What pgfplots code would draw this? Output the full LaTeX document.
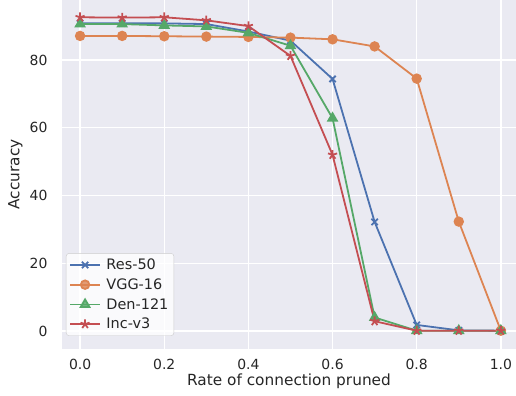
\documentclass[border=0pt]{standalone}
\usepackage{pgfplots}
\pgfplotsset{compat=1.18}
\usepackage{fontspec}
\setmainfont{DejaVu Sans}
\definecolor{bgc}{HTML}{EAEAF2}
\definecolor{sblue}{HTML}{4C72B0}
\definecolor{sorange}{HTML}{DD8452}
\definecolor{sgreen}{HTML}{55A868}
\definecolor{sred}{HTML}{C44E52}
\definecolor{txt}{HTML}{262626}
\begin{document}
\begin{tikzpicture}
\begin{axis}[
  scale only axis,
  width=454bp, height=349bp,
  xmin=-0.043, xmax=1.036,
  ymin=-5.3, ymax=97.7,
  axis background/.style={fill=bgc},
  axis line style={draw=none},
  grid=major,
  major grid style={white, line width=1.4pt},
  xtick={0,0.2,0.4,0.6,0.8,1.0},
  ytick={0,20,40,60,80},
  xticklabel style={/pgf/number format/fixed, /pgf/number format/fixed zerofill, /pgf/number format/precision=1, yshift=-7bp},
  /pgf/number format/assume math mode=true,
  tick style={draw=none},
  tick label style={font=\fontsize{14}{16}\selectfont, text=txt},
  yticklabel style={xshift=-11bp},
  label style={font=\fontsize{15.4}{18}\selectfont, text=txt},
  xlabel={Rate of connection pruned},
  ylabel={Accuracy},
  xlabel style={at={(axis description cs:0.5,0)}, anchor=north, inner sep=0pt, yshift=-25bp},
  ylabel style={at={(axis description cs:0,0.5)}, anchor=center, inner sep=0pt, yshift=46.5bp},
  legend style={at={(0.0088,0.0375)}, anchor=south west, fill=white, fill opacity=0.8, text opacity=1, draw=black!20, rounded corners=3pt, font=\fontsize{14}{16}\selectfont, text=txt, row sep=2.5bp, column sep=3bp, inner sep=3pt,
    nodes={font=\fontsize{14.5}{17}\selectfont, inner sep=2.5bp}},
  legend cell align=left,
  legend image code/.code={\draw[line width=1.8pt, mark repeat=2,mark phase=2] plot coordinates {(0bp,0bp) (15bp,0bp) (30bp,0bp)};},
  every axis plot/.append style={line width=1.8pt},
]
\addplot[sblue, mark=x, mark size=4.5pt] coordinates {
(0.0,90.8) (0.1,90.8) (0.2,90.8) (0.3,90.6) (0.4,88.4) (0.5,85.7) (0.6,74.4) (0.7,32.2) (0.8,1.8) (0.9,0.2) (1.0,0.1)};
\addlegendentry{Res-50}
\addplot[sorange, mark=*, mark size=4.3pt] coordinates {
(0.0,87.1) (0.1,87.1) (0.2,87.0) (0.3,86.9) (0.4,86.8) (0.5,86.6) (0.6,86.1) (0.7,84.0) (0.8,74.5) (0.9,32.3) (1.0,0.1)};
\addlegendentry{VGG-16}
\addplot[sgreen, mark=triangle*, mark size=5pt] coordinates {
(0.0,90.6) (0.1,90.6) (0.2,90.2) (0.3,89.9) (0.4,88.0) (0.5,84.2) (0.6,62.8) (0.7,4.0) (0.8,0.1) (0.9,0.1) (1.0,0.1)};
\addlegendentry{Den-121}
\addplot[sred, mark=star, mark size=4.8pt, mark options={line width=1.8pt}] coordinates {
(0.0,92.6) (0.1,92.5) (0.2,92.6) (0.3,91.7) (0.4,90.0) (0.5,81.2) (0.6,52.0) (0.7,2.9) (0.8,0.1) (0.9,0.1) (1.0,0.1)};
\addlegendentry{Inc-v3}
\end{axis}
\pgfresetboundingbox
\path[use as bounding box] ([shift={(-62bp,-47bp)}]current axis.south west) rectangle (current axis.north east);
\end{tikzpicture}
\end{document}
